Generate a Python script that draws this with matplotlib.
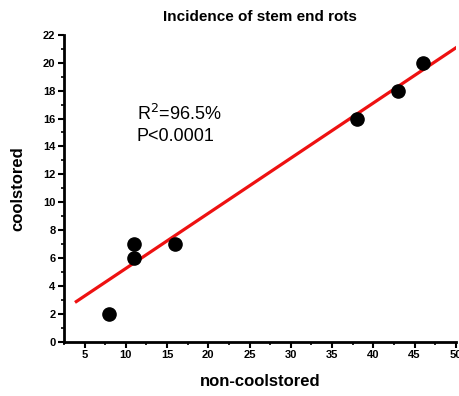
import matplotlib
matplotlib.use("Agg")
import matplotlib.pyplot as plt
import numpy as np
from matplotlib.ticker import MultipleLocator

plt.rcParams['font.family'] = ['Liberation Sans', 'DejaVu Sans']
plt.rcParams['mathtext.fontset'] = 'custom'
plt.rcParams['mathtext.rm'] = 'Liberation Sans'

non_coolstored = [8, 11, 11, 16, 38, 43, 46]
coolstored = [2, 6, 7, 7, 16, 18, 20]
fit_slope = 0.3954
fit_intercept = 1.30
fit_range = [4.0, 50.0]

fig = plt.figure(figsize=(4.6, 3.96), dpi=100)
ax = fig.add_axes([0.139, 0.137, 0.852, 0.775])

fx = np.array(fit_range)
ax.plot(fx, fit_slope * fx + fit_intercept, color='#ee1111', lw=2.3, zorder=2)
ax.plot(non_coolstored, coolstored, 'o', color='black', ms=9.5, zorder=3)

ax.set_xlim(2.5, 50)
ax.set_ylim(0, 22)
ax.xaxis.set_major_locator(MultipleLocator(5))
ax.xaxis.set_minor_locator(MultipleLocator(2.5))
ax.yaxis.set_major_locator(MultipleLocator(2))
ax.yaxis.set_minor_locator(MultipleLocator(1))
for s in ['top', 'right']:
    ax.spines[s].set_visible(False)
for s in ['left', 'bottom']:
    ax.spines[s].set_linewidth(2)
ax.tick_params(which='major', direction='out', length=4, width=1.5, labelsize=8, pad=2)
ax.tick_params(which='minor', direction='out', length=2.5, width=1.2)
for lab in ax.get_xticklabels() + ax.get_yticklabels():
    lab.set_fontweight('bold')

ax.set_xlabel('non-coolstored', fontsize=12, fontweight='bold', labelpad=10)
ax.set_ylabel('coolstored', fontsize=12, fontweight='bold', labelpad=13)
ax.set_title('Incidence of stem end rots', fontsize=11, fontweight='bold', pad=10)

ax.text(11.3, 16.3, r'R$^{\mathsf{2}}$=96.5%', fontsize=13, va='center', ha='left')
ax.text(11.3, 14.7, 'P<0.0001', fontsize=13, va='center', ha='left')

fig.savefig('out.png', dpi=100)
